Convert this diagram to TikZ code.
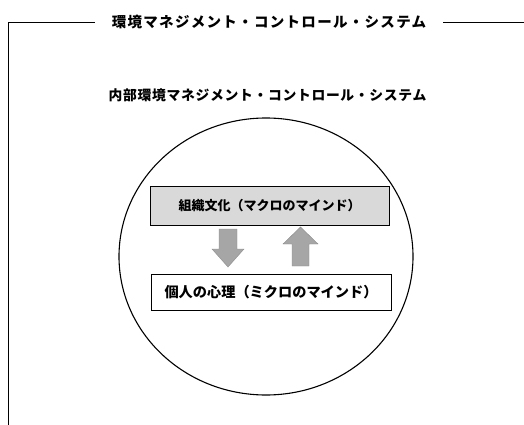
\documentclass[tikz,border=0pt]{standalone}
\usepackage{fontspec}
\newfontfamily\jp{Noto Sans CJK JP}
\newfontfamily\jptitle{Noto Sans CJK JP}[LetterSpace=9]
\newfontfamily\jpsub{Noto Sans CJK JP}[LetterSpace=5]
\usetikzlibrary{shapes.geometric,calc}
\definecolor{boxgray}{HTML}{D9D9D9}
\definecolor{arrowgray}{HTML}{A6A6A6}
\definecolor{arrowedge}{HTML}{8C8C8C}
\tikzset{
  frameline/.style={line width=0.9pt, black},
  titletext/.style={font=\jptitle\bfseries\fontsize{14.5}{16}\selectfont, fill=white, inner sep=0pt, minimum width=348pt, minimum height=16pt},
  subtitletext/.style={font=\jpsub\bfseries\fontsize{13.8}{16}\selectfont, inner sep=0pt},
  culturebox/.style={draw, line width=0.9pt, fill=boxgray, minimum width=239pt, minimum height=39pt, inner sep=0pt, font=\jp\bfseries\fontsize{13}{15}\selectfont},
  mindbox/.style={draw, line width=0.9pt, fill=white, minimum width=240pt, minimum height=36pt, inner sep=0pt, font=\jp\bfseries\fontsize{14.2}{16}\selectfont},
  blockarrow/.style={fill=arrowgray, draw=arrowedge, line width=0.4pt},
}
\begin{document}
\begin{tikzpicture}[x=1pt,y=-1pt]
\useasboundingbox (0,0) rectangle (524,425);
% outer frame
\coordinate (fbot) at (8,425);
\coordinate (fcorner) at (8,22);
\coordinate (fright) at (524,22);
\draw[frameline] (fbot) -- (fcorner) -- (fright);
\node[titletext] (title) at (269,22) {環境マネジメント・コントロール・システム};
% inner system
\node[subtitletext] (inner) at (267.5,95) {内部環境マネジメント・コントロール・システム};
\node[draw, ellipse, line width=1.1pt, minimum width=294pt, minimum height=277pt, inner sep=0pt] (circ) at (266,256.5) {};
% boxes
\node[culturebox] (macro) at (269.5,205.5) {組織文化（マクロのマインド）};
\node[mindbox] (micro) at (271,292) {個人の心理（ミクロのマインド）};
% block arrows
\coordinate (dn) at (228,229);
\draw[blockarrow] ($(dn)+(-9,0)$) -- ($(dn)+(9,0)$) -- ($(dn)+(9,20)$) -- ($(dn)+(16,20)$) -- ($(dn)+(0,38)$) -- ($(dn)+(-16,20)$) -- ($(dn)+(-9,20)$) -- cycle;
\coordinate (up) at (300.5,266);
\draw[blockarrow] ($(up)+(-8.5,0)$) -- ($(up)+(8.5,0)$) -- ($(up)+(8.5,-22)$) -- ($(up)+(17.5,-22)$) -- ($(up)+(0,-39)$) -- ($(up)+(-17.5,-22)$) -- ($(up)+(-8.5,-22)$) -- cycle;
\end{tikzpicture}
\end{document}
